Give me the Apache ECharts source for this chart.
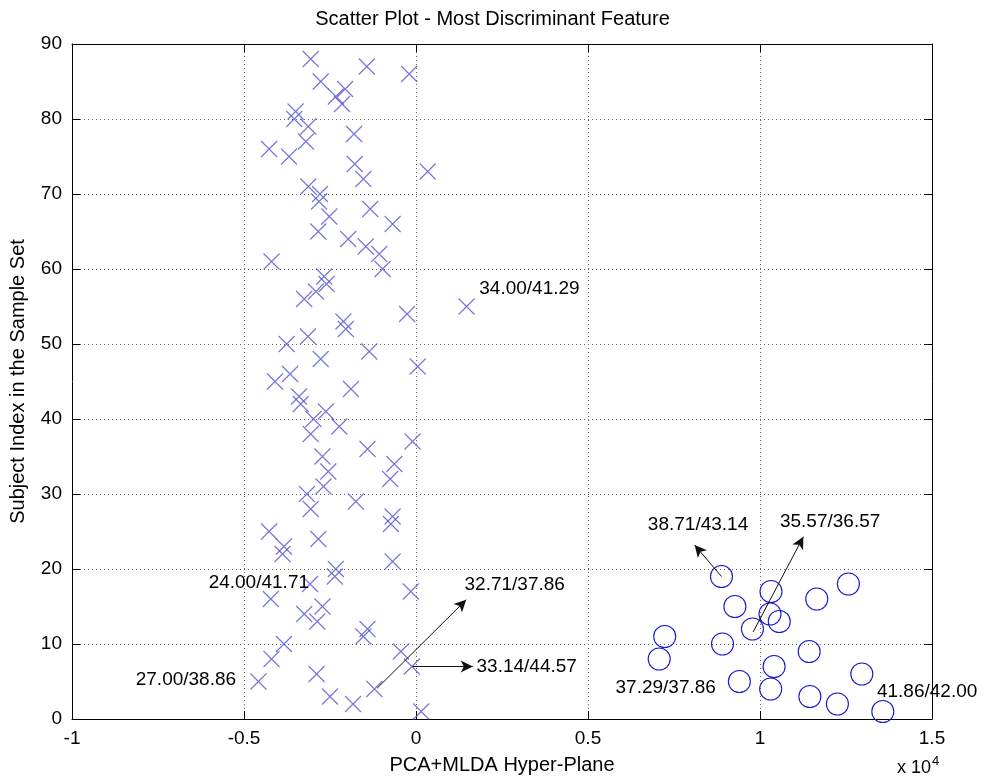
<!DOCTYPE html>
<html>
<head>
<meta charset="utf-8">
<script src="https://cdn.jsdelivr.net/npm/echarts@6/dist/echarts.min.js"></script>
<style>
  html, body { margin: 0; padding: 0; background: #fff; }
  #chart { width: 985px; height: 783px; }
</style>
</head>
<body>
<div id="chart"></div>
<script>
// x values in units of 10^4, y = subject index
var crosses = [
    [0.015,1],[-0.183,2],[-0.25,3],[-0.121,4],[-0.458,5],[-0.289,6],[-0.012,7],[-0.42,8],
    [-0.044,9],[-0.384,10],[-0.153,11],[-0.141,12],[-0.287,13],[-0.325,14],[-0.272,15],
    [-0.422,16],[-0.015,17],[-0.308,18],[-0.236,19],[-0.233,20],[-0.068,21],[-0.388,22],
    [-0.384,23],[-0.284,24],[-0.427,25],[-0.073,26],[-0.068,27],[-0.306,28],[-0.175,29],
    [-0.317,30],[-0.269,31],[-0.075,32],[-0.255,33],[-0.063,34],[-0.272,35],[-0.141,36],
    [-0.01,37],[-0.306,38],[-0.223,39],[-0.298,40],[-0.262,41],[-0.335,42],[-0.34,43],
    [-0.189,44],[-0.41,45],[-0.366,46],[0.005,47],[-0.277,48],[-0.136,49],[-0.376,50],
    [-0.314,51],[-0.204,52],[-0.211,53],[-0.026,54],[0.147,55],[-0.325,56],[-0.291,57],
    [-0.26,58],[-0.267,59],[-0.097,60],[-0.42,61],[-0.107,62],[-0.146,63],[-0.197,64],
    [-0.284,65],[-0.068,66],[-0.252,67],[-0.133,68],[-0.282,69],[-0.279,70],[-0.313,71],
    [-0.153,72],[0.034,73],[-0.178,74],[-0.369,75],[-0.427,76],[-0.32,77],[-0.18,78],
    [-0.313,79],[-0.354,80],[-0.35,81],[-0.215,82],[-0.233,83],[-0.206,84],[-0.277,85],
    [-0.02,86],[-0.143,87],[-0.306,88]
];
var circles = [
    [1.357,1],[1.225,2],[1.145,3],[1.031,4],[0.94,5],[1.296,6],[1.041,7],[0.707,8],
    [1.143,9],[0.891,10],[0.723,11],[0.978,12],[1.056,13],[1.029,14],[0.927,15],
    [1.165,16],[1.032,17],[1.257,18],[0.888,19]
];
// annotation text: [x, y, text, align]
var notes = [
    [0.184,57.3,'34.00/41.29','left'],
    [-0.311,18.1,'24.00/41.71','right'],
    [-0.523,5.2,'27.00/38.86','right'],
    [0.141,17.9,'32.71/37.86','left'],
    [0.176,6.9,'33.14/44.57','left'],
    [0.674,25.9,'38.71/43.14','left'],
    [1.058,26.3,'35.57/36.57','left'],
    [0.580,4.1,'37.29/37.86','left'],
    [1.340,3.6,'41.86/42.00','left']
];
// arrows: [x1, y1, x2, y2]
var arrows = [
    [-0.113,4.1,0.146,15.9],
    [-0.01,7.0,0.165,7.0],
    [0.888,19.0,0.81,23.2],
    [0.98,11.6,1.126,24.3]
];
var xTicks = {min: -1, max: 1.5, step: 0.5};
var yTicks = {min: 0, max: 90, step: 10};

var FONT = 'Liberation Sans';
var myChart = echarts.init(document.getElementById('chart'));

function axisBase(show) {
    return {
        axisLine: {show: true, onZero: false, lineStyle: {color: '#000', width: 1}},
        axisTick: {show: true, inside: true, length: 8, lineStyle: {color: '#000'}},
        axisLabel: {show: show, color: '#000', fontSize: 19, fontFamily: FONT, margin: 10},
        splitLine: {show: false}
    };
}

var xb = axisBase(true), xt = axisBase(false), yl = axisBase(true), yr = axisBase(false);
xb.splitLine = {show: true, lineStyle: {color: '#666', type: [1, 3], width: 1}};
yl.splitLine = {show: true, lineStyle: {color: '#666', type: [1, 3], width: 1}};
xb.axisLabel.formatter = function (v) { return String(Math.round(v * 10) / 10); };

var option = {
    backgroundColor: '#fff',
    animation: false,
    title: {
        text: 'Scatter Plot - Most Discriminant Feature',
        left: 'center',
        top: 4,
        textStyle: {fontSize: 20, fontWeight: 'normal', color: '#000', fontFamily: FONT}
    },
    grid: {left: 72, right: 53, top: 44, bottom: 64, containLabel: false, outerBoundsMode: 'none'},
    xAxis: [
        Object.assign(xb, {
            type: 'value', position: 'bottom', min: xTicks.min, max: xTicks.max, interval: xTicks.step,
            name: 'PCA+MLDA Hyper-Plane', nameLocation: 'middle', nameGap: 36,
            nameTextStyle: {fontSize: 20, color: '#000', fontFamily: FONT}
        }),
        Object.assign(xt, {
            type: 'value', position: 'top', min: xTicks.min, max: xTicks.max, interval: xTicks.step
        })
    ],
    yAxis: [
        Object.assign(yl, {
            type: 'value', position: 'left', min: yTicks.min, max: yTicks.max, interval: yTicks.step,
            name: 'Subject Index in the Sample Set', nameLocation: 'middle', nameGap: 44,
            nameTextStyle: {fontSize: 20, color: '#000', fontFamily: FONT}
        }),
        Object.assign(yr, {
            type: 'value', position: 'right', min: yTicks.min, max: yTicks.max, interval: yTicks.step
        })
    ],
    graphic: [{
        type: 'text',
        left: 897,
        top: 755,
        style: {
            text: 'x 10{sup|4}',
            fill: '#000',
            font: '18px "Liberation Sans"',
            rich: {sup: {fontSize: 13, fontFamily: FONT, verticalAlign: 'top', padding: [0, 0, 14, 1]}}
        }
    }],
    series: [
        {
            type: 'scatter',
            name: 'cross',
            data: crosses,
            symbol: 'path://M0,0L10,10M10,0L0,10',
            symbolSize: 16,
            itemStyle: {color: 'rgba(0,0,0,0)', borderColor: '#5050d0', borderWidth: 1.1},
            silent: true
        },
        {
            type: 'scatter',
            name: 'circle',
            data: circles,
            symbol: 'circle',
            symbolSize: 22,
            itemStyle: {color: 'rgba(0,0,0,0)', borderColor: '#1818d0', borderWidth: 1.1, opacity: 1},
            silent: true
        },
        {
            type: 'scatter',
            name: 'notes',
            silent: true,
            symbolSize: 0,
            itemStyle: {opacity: 1},
            data: notes.map(function (n) {
                return {value: [n[0], n[1]], name: n[2], label: {align: n[3]}};
            }),
            label: {
                show: true,
                position: [0, 0],
                verticalAlign: 'middle',
                formatter: '{b}',
                color: '#000',
                textBorderWidth: 0,
                fontSize: 19,
                fontFamily: FONT
            },
            markLine: {
                silent: true,
                symbol: ['none', 'arrow'],
                symbolSize: [9, 12],
                label: {show: false},
                lineStyle: {color: '#111', width: 1, type: 'solid', opacity: 1},
                data: arrows.map(function (a) {
                    return [{coord: [a[0], a[1]]}, {coord: [a[2], a[3]]}];
                })
            }
        }
    ]
};
myChart.setOption(option);
</script>
</body>
</html>
